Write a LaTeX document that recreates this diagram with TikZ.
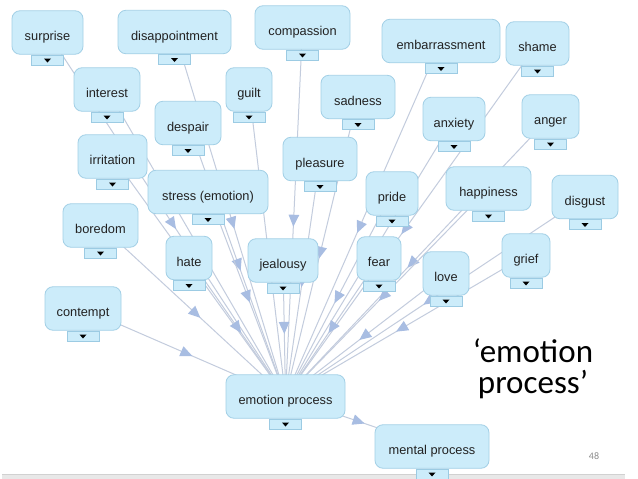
\documentclass[tikz,border=0pt]{standalone}
\usepackage{fontspec}
\setmainfont{Liberation Sans}
\newfontfamily\calibri{Carlito}
\usetikzlibrary{arrows.meta,decorations.markings}
\definecolor{boxfill}{HTML}{CCECFA}
\definecolor{boxline}{HTML}{A3D0E6}
\definecolor{tabline}{HTML}{9CCBE3}
\definecolor{linecol}{HTML}{C3CCDD}
\definecolor{arrowcol}{HTML}{A8BDE2}
\definecolor{txt}{HTML}{222222}
\pgfdeclarelayer{bg}
\pgfsetlayers{bg,main}
\tikzset{
  ebox/.style={draw=boxline, fill=boxfill, rounded corners=8pt, line width=0.8pt,
    minimum height=43.5pt, inner sep=0pt, text=txt,
    font=\fontsize{12.8}{14}\selectfont, text height=16pt, text depth=0pt},
  etab/.style={draw=tabline, fill=boxfill, line width=0.7pt, minimum width=32pt,
    minimum height=10pt, inner sep=0pt},
  tri/.style={fill=black},
  edge/.style={draw=linecol, line width=1pt,
    decoration={markings, mark=at position 0.54 with {\arrow[arrowcol]{Triangle[length=12pt,width=10.5pt]}}},
    postaction={decorate}}
}
\newcommand\emonode[5]{%
  \node[ebox, minimum width=#4pt] (#1) at (#2,#3) {#5};
  \node[etab, anchor=north] (#1-tab) at (#1.south) {};
  \fill[tri] ([xshift=-3.5pt,yshift=1.5pt]#1-tab.center) -- ++(7pt,0) -- ++(-3.5pt,-4pt) -- cycle;
}
\begin{document}
\begin{tikzpicture}[x=1pt,y=-1pt]
\useasboundingbox (0,0) rectangle (638,479);
\begin{pgfonlayer}{bg}
\fill[white] (0,0) rectangle (638,479);
\end{pgfonlayer}
% bottom bar
\fill[black!9] (2,474) rectangle (625,479);
\draw[black!18, line width=0.6pt] (2,474) -- (625,474);

\emonode{surprise}{47.5}{32.5}{71}{surprise}
\emonode{disappointment}{174.5}{32}{113}{disappointment}
\emonode{compassion}{302.5}{27.5}{95}{compassion}
\emonode{interest}{107}{89.5}{66}{interest}
\emonode{guilt}{249}{89.5}{46}{guilt}
\emonode{despair}{188}{123}{66}{despair}
\emonode{embarrassment}{441}{41}{118}{embarrassment}
\emonode{shame}{537.5}{43.5}{63}{shame}
\emonode{sadness}{358}{97}{74}{sadness}
\emonode{anxiety}{454}{119}{62}{anxiety}
\emonode{anger}{550.5}{116.5}{57}{anger}
\emonode{irritation}{112.5}{156.5}{69}{irritation}
\emonode{stress}{208}{192}{120}{stress (emotion)}
\emonode{pleasure}{320}{159}{74}{pleasure}
\emonode{boredom}{100.5}{225.5}{75}{boredom}
\emonode{hate}{189}{258}{46}{hate}
\emonode{jealousy}{283}{260.5}{70}{jealousy}
\emonode{pride}{392}{193.5}{52}{pride}
\emonode{happiness}{488.5}{188.5}{85}{happiness}
\emonode{disgust}{585}{197}{66}{disgust}
\emonode{fear}{379}{258.5}{44}{fear}
\emonode{grief}{526}{255.5}{48}{grief}
\emonode{love}{446}{273.5}{46}{love}
\emonode{contempt}{83}{308.5}{76}{contempt}
\emonode{ep}{285.5}{396.5}{119}{emotion process}
\emonode{mp}{432}{446.5}{114}{mental process}

\begin{pgfonlayer}{bg}
\foreach \n in {surprise,disappointment,compassion,interest,guilt,despair,embarrassment,shame,sadness,anxiety,anger,irritation,stress,pleasure,boredom,hate,jealousy,pride,happiness,disgust,fear,grief,love,contempt}
  \draw[edge] (\n.center) -- (ep.center);
\draw[edge] (ep.center) -- (mp.center);
\end{pgfonlayer}

\node[font=\calibri\fontsize{33}{31}\selectfont, align=center, text=black] (title) at (533,369) {‘emotion\\process’};
\node[font=\calibri\fontsize{10}{12}\selectfont, text=black!45] (pagenum) at (594,456.5) {48};
\end{tikzpicture}
\end{document}
